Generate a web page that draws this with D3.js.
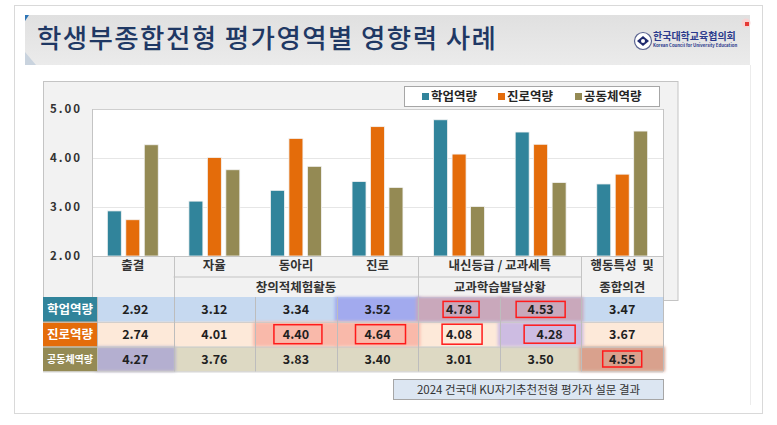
<!DOCTYPE html>
<html>
<head>
<meta charset="utf-8">
<script src="https://cdn.jsdelivr.net/npm/d3@7"></script>
<style>
  html, body { margin: 0; padding: 0; background: #fff; }
  text { font-family: "Noto Sans CJK KR", "Noto Sans", sans-serif; }
</style>
</head>
<body>
<div id="chart"></div>
<script>
// ---- data ----
const categories = ["출결", "자율", "동아리", "진로", "내신등급", "교과세특", "행동특성 및 종합의견"];
const seriesNames = ["학업역량", "진로역량", "공동체역량"];
const academic = [2.92, 3.12, 3.34, 3.52, 4.78, 4.53, 3.47];
const career = [2.74, 4.01, 4.40, 4.64, 4.08, 4.28, 3.67];
const community = [4.27, 3.76, 3.83, 3.40, 3.01, 3.50, 4.55];
const yTicks = [2, 3, 4, 5];
// header rows under the axis: [label, first category, last category]
const headerTop = [["출결", 0, 0], ["자율", 1, 1], ["동아리", 2, 2], ["진로", 3, 3], ["내신등급 / 교과세특", 4, 5], ["행동특성  및", 6, 6]];
const headerBottom = [["창의적체험활동", 1, 3], ["교과학습발달상황", 4, 5], ["종합의견", 6, 6]];
const titleText = "학생부종합전형 평가영역별 영향력 사례";
const sourceText = "2024 건국대 KU자기추천전형 평가자 설문 결과";

const values = [academic, career, community];

// ---- styles ----
const colors = ["#31849b", "#e46c0a", "#948a54"];
const rowBg = ["#c6d9f0", "#fde9d9", "#ddd9c3"];
// tinted cells [series, category, colour]
const tints = [[0, 3, "#a2aaee"], [0, 4, "#c9a8bb"], [0, 5, "#c9a8bb"],
               [1, 2, "#f9b9aa"], [1, 3, "#f9b9aa"], [1, 5, "#cdbce2"],
               [2, 0, "#b4afd0"], [2, 6, "#d9a18d"]];
// red boxes [series, category, width, height, dx]
const boxes = [[0, 4, 36, 16, 2], [0, 5, 49, 16, 0], [1, 2, 48, 19, 2], [1, 3, 50, 19, 3],
               [1, 4, 40, 20, 3], [1, 5, 51, 18, 9], [2, 6, 39, 16, 0]];

const width = 777, height = 425;
const plot = {left: 92, right: 663, top: 109, bottom: 256};
const headRow = 20.5;
const tableTop = plot.bottom + headRow * 2;
const rowH = 24.8;
const tableLeft = 43, dataLeft = 97;

const svg = d3.select("#chart").append("svg")
  .attr("width", width).attr("height", height);

const defs = svg.append("defs");
const grad = defs.append("linearGradient").attr("id", "titleGrad").attr("x1", 0).attr("x2", 0).attr("y1", 0).attr("y2", 1);
grad.append("stop").attr("offset", "0%").attr("stop-color", "#e0e0e0");
grad.append("stop").attr("offset", "100%").attr("stop-color", "#ebebeb");
defs.append("filter").attr("id", "soft").attr("x", "-20%").attr("y", "-30%").attr("width", "140%").attr("height", "160%")
  .append("feGaussianBlur").attr("stdDeviation", 1.6);

// page frame
svg.append("rect").attr("x", 14.5).attr("y", 5.5).attr("width", 748).attr("height", 408)
  .attr("fill", "#fff").attr("stroke", "#d9d9d9");
svg.append("line").attr("x1", 750.5).attr("x2", 750.5).attr("y1", 65).attr("y2", 405).attr("stroke", "#ececec");

// title bar
svg.append("rect").attr("x", 25).attr("y", 15).attr("width", 725).attr("height", 50).attr("fill", "url(#titleGrad)");
svg.append("path").attr("d", "M25,15 L29,15 L25,21 Z").attr("fill", "#2e75b6");
svg.append("path").attr("d", "M25,52 L36,65 L25,65 Z").attr("fill", "#c9d3de");
svg.append("text").attr("x", 37).attr("y", 48).attr("font-size", 26.5).attr("font-weight", 500)
  .attr("letter-spacing", 1.4).attr("fill", "#1f3864").text(titleText);

// logo
const logo = svg.append("g").attr("transform", "translate(643,41)");
logo.append("circle").attr("r", 8.5).attr("fill", "#fff").attr("stroke", "#5a6390").attr("stroke-width", 1.2);
logo.append("path").attr("d", "M-6,0 L0,-5 L6,0 L0,5 Z").attr("fill", "#1f2a6e");
logo.append("circle").attr("r", 2).attr("fill", "#fff");
logo.append("text").attr("x", 10).attr("y", -1).attr("font-size", 10).attr("font-weight", 700)
  .attr("fill", "#2b3a8c").text("한국대학교육협의회");
logo.append("text").attr("x", 10).attr("y", 6).attr("font-size", 4.3).attr("font-weight", 700)
  .attr("fill", "#2b3a8c").text("Korean Council for University Education");
svg.append("circle").attr("cx", 746).attr("cy", 23).attr("r", 4.5).attr("fill", "#f6d3d3");
svg.append("rect").attr("x", 745).attr("y", 22).attr("width", 4).attr("height", 4).attr("fill", "#e53935");

// chart panel
svg.append("rect").attr("x", 43.5).attr("y", 81.5).attr("width", 634.5).attr("height", 219)
  .attr("fill", "#f2f2f2").attr("stroke", "#c4c4c4");

// scales
const x0 = d3.scaleBand().domain(d3.range(categories.length)).range([plot.left, plot.right]);
const x1 = d3.scaleBand().domain(d3.range(seriesNames.length)).range([0, x0.bandwidth()])
  .paddingInner(0.243).paddingOuter(0.83);
const y = d3.scaleLinear().domain([2, 5]).range([plot.bottom, plot.top]);

// plot area
svg.append("rect").attr("x", plot.left + 0.5).attr("y", plot.top + 0.5)
  .attr("width", plot.right - plot.left).attr("height", plot.bottom - plot.top)
  .attr("fill", "#fff").attr("stroke", "#cfcfcf");
svg.append("g").selectAll("line").data(yTicks.filter(t => t > 2 && t < 5)).join("line")
  .attr("x1", plot.left + 1).attr("x2", plot.right)
  .attr("y1", d => Math.round(y(d)) + 0.5).attr("y2", d => Math.round(y(d)) + 0.5)
  .attr("stroke", "#e6e6e6");

// y axis
const yAxis = svg.append("g").attr("transform", `translate(${plot.left},0)`)
  .call(d3.axisLeft(y).tickValues(yTicks).tickFormat(d3.format(".2f")).tickSize(0).tickPadding(10));
yAxis.select(".domain").remove();
yAxis.selectAll("text").attr("font-family", "'DejaVu Sans Mono', monospace").attr("font-size", 11.5)
  .attr("font-weight", 700).attr("letter-spacing", 2).attr("fill", "#333");

// bars
svg.append("g").selectAll("g").data(categories).join("g")
  .attr("transform", (d, i) => `translate(${x0(i)},0)`)
  .selectAll("rect").data((d, i) => values.map((v, s) => ({s, v: v[i]}))).join("rect")
  .attr("x", d => x1(d.s)).attr("width", x1.bandwidth())
  .attr("y", d => y(d.v)).attr("height", d => y(2) - y(d.v))
  .attr("fill", d => colors[d.s]).attr("stroke", "#f3f3f3").attr("stroke-width", 0.8);

// legend
const legend = svg.append("g");
legend.append("rect").attr("x", 404.5).attr("y", 86.5).attr("width", 255).attr("height", 20)
  .attr("fill", "#fff").attr("stroke", "#a6a6a6");
const legendX = [422, 498, 575];
seriesNames.forEach((name, i) => {
  legend.append("rect").attr("x", legendX[i]).attr("y", 93).attr("width", 7).attr("height", 7).attr("fill", colors[i]);
  legend.append("text").attr("x", legendX[i] + 9).attr("y", 97).attr("dy", "0.35em")
    .attr("font-size", 12.5).attr("font-weight", 700).attr("fill", "#262626").text(name);
});

// header rows beneath the axis
const head = svg.append("g");
const bx = i => x0(i);
const bxEnd = i => x0(i) + x0.bandwidth();
head.append("line").attr("x1", plot.left).attr("x2", plot.right).attr("y1", plot.bottom + 0.5).attr("y2", plot.bottom + 0.5)
  .attr("stroke", "#c4c4c4");
[0, 1, 4, 6, 7].forEach(i => {
  const xx = Math.round(i === 7 ? plot.right : bx(i)) + 0.5;
  head.append("line").attr("x1", xx).attr("x2", xx).attr("y1", i === 0 || i === 7 ? plot.top : plot.bottom)
    .attr("y2", tableTop).attr("stroke", "#c4c4c4");
});
head.append("line").attr("x1", bx(1)).attr("x2", bx(6)).attr("y1", plot.bottom + headRow + 0.5).attr("y2", plot.bottom + headRow + 0.5)
  .attr("stroke", "#c4c4c4");
head.selectAll("text.top").data(headerTop).join("text").attr("class", "top")
  .attr("x", d => (bx(d[1]) + bxEnd(d[2])) / 2).attr("y", plot.bottom + headRow / 2 - 1).attr("dy", "0.35em")
  .attr("text-anchor", "middle").attr("font-size", 12.5).attr("font-weight", 700).attr("fill", "#333")
  .attr("xml:space", "preserve").text(d => d[0]);
head.selectAll("text.bot").data(headerBottom).join("text").attr("class", "bot")
  .attr("x", d => (bx(d[1]) + bxEnd(d[2])) / 2).attr("y", plot.bottom + headRow * 1.5 + 0.5).attr("dy", "0.35em")
  .attr("text-anchor", "middle").attr("font-size", 12.5).attr("font-weight", 700).attr("fill", "#333")
  .text(d => d[0]);

// data table
const table = svg.append("g");
const colLeft = i => i === 0 ? dataLeft : bx(i);
const colRight = i => bxEnd(i);
const rowY = s => tableTop + s * rowH;
seriesNames.forEach((name, s) => {
  table.append("rect").attr("x", dataLeft).attr("y", rowY(s)).attr("width", plot.right - dataLeft).attr("height", rowH)
    .attr("fill", rowBg[s]);
});
table.selectAll("rect.tint").data(tints).join("rect").attr("class", "tint")
  .attr("x", d => colLeft(d[1]) - 2).attr("y", d => rowY(d[0])).attr("width", d => colRight(d[1]) - colLeft(d[1]) + 4)
  .attr("height", rowH).attr("fill", d => d[2]).attr("filter", "url(#soft)");
seriesNames.forEach((name, s) => {
  table.append("rect").attr("x", tableLeft).attr("y", rowY(s)).attr("width", dataLeft - tableLeft).attr("height", rowH)
    .attr("fill", colors[s]);
  table.append("text").attr("x", (tableLeft + dataLeft) / 2).attr("y", rowY(s) + rowH / 2).attr("dy", "0.35em")
    .attr("text-anchor", "middle").attr("font-size", s === 2 ? 10 : 12.5).attr("font-weight", 700)
    .attr("fill", "#fff").text(name);
});
// grid lines of table
d3.range(1, 4).forEach(s => {
  table.append("line").attr("x1", tableLeft).attr("x2", plot.right).attr("y1", rowY(s) + 0.5).attr("y2", rowY(s) + 0.5)
    .attr("stroke", "#c9c9c9");
});
d3.range(categories.length + 1).forEach(i => {
  const xx = Math.round(i === categories.length ? plot.right : colLeft(i)) + 0.5;
  table.append("line").attr("x1", xx).attr("x2", xx).attr("y1", tableTop).attr("y2", rowY(3))
    .attr("stroke", "#bdbdbd");
});
// red boxes
table.selectAll("rect.box").data(boxes).join("rect").attr("class", "box")
  .attr("x", d => (colLeft(d[1]) + colRight(d[1])) / 2 - d[2] / 2 + d[4])
  .attr("y", d => rowY(d[0]) + rowH / 2 - d[3] / 2)
  .attr("width", d => d[2]).attr("height", d => d[3])
  .attr("fill", "none").attr("stroke", "#ff1a1a").attr("stroke-width", 1.5);
// numbers
values.forEach((vals, s) => {
  table.selectAll(null).data(vals).join("text")
    .attr("x", (d, i) => (colLeft(i) + colRight(i)) / 2 + (s === 1 && i === 5 ? 9 : 0))
    .attr("y", rowY(s) + rowH / 2 + 0.5).attr("dy", "0.35em")
    .attr("text-anchor", "middle").attr("font-size", 12.5).attr("font-weight", 700).attr("fill", "#1f1f1f")
    .text(d => d3.format(".2f")(d));
});

// source note
svg.append("rect").attr("x", 393.5).attr("y", 379.5).attr("width", 270).attr("height", 20)
  .attr("fill", "#dce6f2").attr("stroke", "#a6a6a6");
svg.append("text").attr("x", 528.5).attr("y", 389.5).attr("dy", "0.35em").attr("text-anchor", "middle")
  .attr("font-size", 11.5).attr("fill", "#333").text(sourceText);
</script>
</body>
</html>
